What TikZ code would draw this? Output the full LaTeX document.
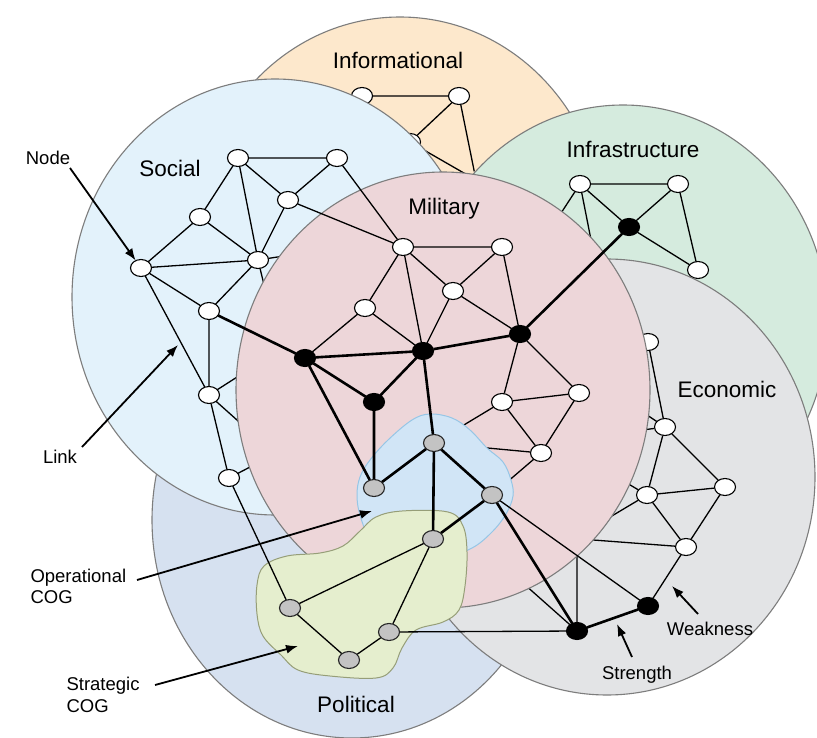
\documentclass[tikz,border=0pt]{standalone}
\usepackage{fontspec}
\setmainfont{Liberation Sans}
\usetikzlibrary{shapes.geometric,arrows.meta}
\definecolor{cInfo}{RGB}{253,232,204}
\definecolor{cInfra}{RGB}{213,235,222}
\definecolor{cSoc}{RGB}{227,242,251}
\definecolor{cMil}{RGB}{237,214,217}
\definecolor{cEco}{RGB}{227,228,230}
\definecolor{cPol}{RGB}{214,225,240}
\definecolor{cOp}{RGB}{209,229,246}
\definecolor{cOpEdge}{RGB}{150,198,230}
\definecolor{cSt}{RGB}{229,238,206}
\definecolor{cStEdge}{RGB}{150,158,120}
\definecolor{cEdge}{RGB}{125,125,125}
\definecolor{cGray}{RGB}{195,195,195}
\begin{document}
\begin{tikzpicture}[x=1pt,y=-1pt,
  region/.style={draw=cEdge, line width=1.1pt},
  shp/.style={ellipse, minimum width=21pt, minimum height=17pt, inner sep=0pt},
  wn/.style={shp, draw=black, line width=1.1pt, fill=white},
  bn/.style={wn, fill=black},
  gn/.style={wn, fill=cGray, draw=black!85},
  lk/.style={line width=1.3pt},
  tk/.style={line width=2.6pt},
  ann/.style={line width=1.8pt, -{Latex[length=12pt,width=9pt]}},
  big/.style={font=\fontsize{22.5}{27}\selectfont, anchor=base},
  small/.style={font=\fontsize{18.5}{21}\selectfont, anchor=base},
  opblob/.style={fill=cOp, draw=cOpEdge, line width=1pt},
  stblob/.style={fill=cSt, draw=cStEdge, line width=1pt},
]
\useasboundingbox (0,0) rectangle (817,738);
\fill[white] (0,0) rectangle (817,738);

% node positions
\foreach \n/\x/\y in {I1/362/96, I2/459/96, I3/410/142, I4/476/180,
  F1/580/184, F2/678/184, F3/629/227, F4/698/270,
  E1/648/342, E2/665/427, E3/647/495, E4/725/487, E5/686/547, E6/648/606, E7/577/631,
  S1/238/158, S2/337/158, S3/288/200, S4/200/217, S5/141/268, S6/258/260, S7/209/311, S8/209/395, S9/229/478,
  M1/403/247, M2/502/247, M3/453/291, M4/365/308, M5/305/358, M6/423/351, M7/520/334, M8/374/402, M9/502/402, M10/579/393, M11/541/453,
  O1/434/443, O2/374/488, O3/492/495,
  P1/433/539, P2/290/608, P3/389/632, P4/349/660}
  {\node[shp] (\n) at (\x,\y) {};}
\foreach \n/\x/\y in {hF1/550/230, hF2/594/255,
  hE2a/620/397, hE2b/620/433, hE3a/610/473, hE3b/590/529, hE5/580/539, hE7a/577/540, hE7b/515/576,
  hS6a/310/252, hS6b/275/330, hS8a/270/356, hS8b/265/445, hS9/275/454}
  {\coordinate (\n) at (\x,\y);}

% Informational
\draw[region, fill=cInfo] (400,235) ellipse [x radius=205, y radius=218];
\draw[lk] (I1)--(I2) (I2)--(I3) (I2)--(I4) (I3)--(I4);
\node[wn] at (I1) {}; \node[wn] at (I2) {}; \node[wn] at (I3) {};
% Infrastructure
\draw[region, fill=cInfra] (623,323) ellipse [x radius=205, y radius=218];
\draw[lk] (F1)--(F2) (F1)--(F3) (F2)--(F3) (F3)--(F4) (F2)--(F4) (F1)--(hF1) (F1)--(hF2);
\node[wn] at (F4) {};
% Political
\draw[region, fill=cPol] (352,520) ellipse [x radius=200, y radius=218];
% Economic
\draw[region, fill=cEco] (607,477) ellipse [x radius=208, y radius=218];
\draw[lk] (E1)--(E2) (E2)--(E3) (E2)--(E4) (E3)--(E4) (E3)--(E5) (E4)--(E5) (E5)--(E6)
  (E2)--(hE2a) (E2)--(hE2b) (E3)--(hE3a) (E3)--(hE3b) (E5)--(hE5) (E7)--(hE7a) (E7)--(hE7b);
\node[wn] at (E1) {};
% Social
\draw[region, fill=cSoc] (275,297) ellipse [x radius=203, y radius=218];
\draw[lk] (S1)--(S2) (S1)--(S3) (S2)--(S3) (S1)--(S4) (S1)--(S6) (S3)--(S6) (S4)--(S5) (S4)--(S6)
  (S5)--(S6) (S5)--(S7) (S5)--(S8) (S6)--(S7) (S7)--(S8) (S8)--(S9)
  (S6)--(hS6a) (S6)--(hS6b) (S8)--(hS8a) (S8)--(hS8b) (S9)--(hS9);
% Military
\draw[region, fill=cMil] (443,390) ellipse [x radius=207, y radius=218];
\draw[lk] (M1)--(M2) (M1)--(M3) (M2)--(M3) (M1)--(M4) (M1)--(M6) (M2)--(M7) (M3)--(M6) (M3)--(M7)
  (M4)--(M5) (M4)--(M6) (M7)--(M9) (M7)--(M10) (M9)--(M10) (M9)--(M11) (M10)--(M11)
  (M9)--(O1) (M11)--(O1) (M11)--(O3);
% COG blobs
\draw[opblob] plot[smooth cycle, tension=0.6] coordinates {(412,420) (430,414) (452,418) (470,430) (487,448) (503,462) (511,480) (513,496) (506,514) (492,532) (472,548) (445,556) (400,550) (370,535) (360,515) (357,495) (360,477) (370,460) (388,440)};
\draw[stblob] plot[smooth cycle, tension=0.6] coordinates {(257,585) (264,566) (287,556) (320,553) (343,546) (360,531) (376,517) (402,511) (448,512) (463,526) (467,552) (465,586) (459,610) (443,622) (416,630) (402,648) (393,668) (376,678) (330,676) (298,670) (281,655) (263,636) (257,614)};
% links on top
\draw[lk] (S2)--(M1) (S3)--(M1) (S9)--(P2) (O3)--(E6) (P1)--(P2) (P1)--(P3) (P2)--(P4) (P3)--(P4) (P3)--(E7);
\draw[tk] (S7)--(M5) (M5)--(M6) (M6)--(M7) (M7)--(F3) (M5)--(M8) (M6)--(M8) (M5)--(O2) (M8)--(O2)
  (M6)--(O1) (O1)--(O2) (O1)--(O3) (O1)--(P1) (O3)--(P1) (O3)--(E7) (E6)--(E7);
% visible nodes
\foreach \n in {F1,F2,E2,E3,E4,E5,S1,S2,S3,S4,S5,S6,S7,S8,S9,M1,M2,M3,M4,M9,M10,M11}
  {\node[wn] at (\n) {};}
\foreach \n in {F3,E6,E7,M5,M6,M7,M8} {\node[bn] at (\n) {};}
\foreach \n in {O1,O2,O3,P1,P2,P3,P4} {\node[gn] at (\n) {};}

% region labels
\node[big] (tInfo) at (398,69) {Informational};
\node[big] (tSoc) at (170,177) {Social};
\node[big] (tInfra) at (633,158) {Infrastructure};
\node[big] (tMil) at (444,215) {Military};
\node[big] (tEco) at (727,397) {Economic};
\node[big] (tPol) at (356,712) {Political};

% annotations
\node[small] (tNode) at (48,165) {Node};
\node[small] (tLink) at (60,463) {Link};
\node[small, anchor=base west] (tOp1) at (27,582) {Operational};
\node[small, anchor=base west] (tOp2) at (27,603) {COG};
\node[small, anchor=base west] (tSt1) at (63,690) {Strategic};
\node[small, anchor=base west] (tSt2) at (63,712) {COG};
\node[small] (tStr) at (637,679) {Strength};
\node[small] (tWeak) at (710,635) {Weakness};

\coordinate (aN) at (70,168);
\coordinate (aL0) at (82,447); \coordinate (aL1) at (178,345);
\coordinate (aO0) at (137,580); \coordinate (aO1) at (372,511);
\coordinate (aS0) at (155,685); \coordinate (aS1) at (298,646);
\coordinate (aT0) at (632,657); \coordinate (aT1) at (617,624);
\coordinate (aW0) at (698,614); \coordinate (aW1) at (672,586);
\draw[ann] (aN) -- (S5);
\draw[ann] (aL0) -- (aL1);
\draw[ann] (aO0) -- (aO1);
\draw[ann] (aS0) -- (aS1);
\draw[ann] (aT0) -- (aT1);
\draw[ann] (aW0) -- (aW1);
\end{tikzpicture}
\end{document}
